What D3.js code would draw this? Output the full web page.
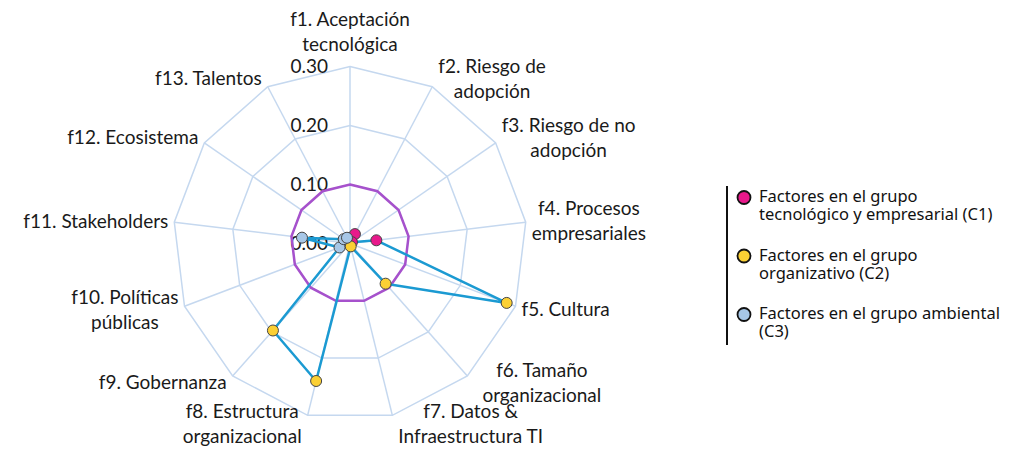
<!DOCTYPE html>
<html>
<head>
<meta charset="utf-8">
<script src="https://cdn.jsdelivr.net/npm/d3@7"></script>
<style>
  body { margin: 0; background: #fff; }
</style>
</head>
<body>
<svg id="chart" width="1022" height="450"></svg>
<script>
// factor names (split in lines as in the original figure)
const factors = [
    ["f1. Aceptación", "tecnológica"],
    ["f2. Riesgo de", "adopción"],
    ["f3. Riesgo de no", "adopción"],
    ["f4. Procesos", "empresariales"],
    ["f5. Cultura"],
    ["f6. Tamaño", "organizacional"],
    ["f7. Datos &", "Infraestructura TI"],
    ["f8. Estructura", "organizacional"],
    ["f9. Gobernanza"],
    ["f10. Políticas", "públicas"],
    ["f11. Stakeholders"],
    ["f12. Ecosistema"],
    ["f13. Talentos"]
];
// group of each factor
const factorGroup = ["C1", "C1", "C1", "C1", "C2", "C2", "C2", "C2", "C2", "C3", "C3", "C3", "C3"];
// weight of each factor
const weights = [0.008, 0.018, 0.004, 0.045, 0.284, 0.091, 0.005, 0.240, 0.197, 0.019, 0.082, 0.013, 0.011];
// reference line (purple)
const reference = [0.10, 0.10, 0.10, 0.10, 0.10, 0.10, 0.10, 0.10, 0.10, 0.10, 0.10, 0.10, 0.10];
const ticks = [0, 0.10, 0.20, 0.30];
const groupKeys = ["C1", "C2", "C3"];
const legendLabels = [
    ["Factores en el grupo", "tecnológico y empresarial (C1)"],
    ["Factores en el grupo", "organizativo (C2)"],
    ["Factores en el grupo ambiental", "(C3)"]
];

const cx = 350, cy = 243.5, R = 177;
const labelFont = "Lato, 'DejaVu Sans', sans-serif";
const legendFont = "'Noto Sans', sans-serif";

const svg = d3.select("#chart");
const g = svg.append("g").attr("transform", "translate(" + cx + "," + cy + ")");

let r = d3.scaleLinear().domain([0, 0.30]).range([0, R]);
let angle = d3.scaleLinear().domain([0, factors.length]).range([0, 2 * Math.PI]);
let color = d3.scaleOrdinal().domain(groupKeys).range(["#e8198b", "#fbd034", "#a7c7e7"]);

function pt(i, v) {
    let a = angle(i);
    return [Math.sin(a) * r(v), -Math.cos(a) * r(v)];
}

// grid rings
let ring = d3.lineRadial().angle((d, i) => angle(i)).radius(d => r(d)).curve(d3.curveLinearClosed);
g.append("g").attr("class", "grid")
    .selectAll("path")
    .data(ticks.filter(t => t > 0))
    .enter().append("path")
    .attr("d", t => ring(factors.map(() => t)))
    .attr("fill", "none")
    .attr("stroke", "#c5d8ef")
    .attr("stroke-width", 1.5);

// spokes
g.append("g").attr("class", "spokes")
    .selectAll("line")
    .data(factors)
    .enter().append("line")
    .attr("x1", 0).attr("y1", 0)
    .attr("x2", (d, i) => pt(i, 0.30)[0])
    .attr("y2", (d, i) => pt(i, 0.30)[1])
    .attr("stroke", "#c5d8ef")
    .attr("stroke-width", 1.5);

// tick labels
g.append("g").attr("class", "ticks")
    .selectAll("text")
    .data(ticks)
    .enter().append("text")
    .attr("x", -22)
    .attr("y", d => -r(d))
    .attr("dy", "0.36em")
    .attr("text-anchor", "end")
    .attr("font-family", labelFont)
    .attr("font-size", 19)
    .attr("fill", "#1a1a1a")
    .text(d => d.toFixed(2));

// reference polygon
g.append("path")
    .attr("d", ring(reference))
    .attr("fill", "none")
    .attr("stroke", "#a651cc")
    .attr("stroke-width", 2.5);

// weights polygon
g.append("path")
    .attr("d", ring(weights))
    .attr("fill", "none")
    .attr("stroke", "#1b9ad2")
    .attr("stroke-width", 2.5)
    .attr("stroke-linejoin", "round");

// markers, drawn group by group
let marks = weights.map((w, i) => ({ w: w, i: i, grp: factorGroup[i] }));
marks.sort((a, b) => groupKeys.indexOf(a.grp) - groupKeys.indexOf(b.grp));
g.append("g").attr("class", "marks")
    .selectAll("circle")
    .data(marks)
    .enter().append("circle")
    .attr("cx", d => pt(d.i, d.w)[0])
    .attr("cy", d => pt(d.i, d.w)[1])
    .attr("r", 5.5)
    .attr("fill", d => color(d.grp))
    .attr("stroke", "#444")
    .attr("stroke-width", 1);

// factor labels: one text per factor, one tspan per line
let lineH = 25;
let labels = g.append("g").attr("class", "labels")
    .selectAll("text")
    .data(factors)
    .enter().append("text")
    .attr("font-family", labelFont)
    .attr("font-size", 19)
    .attr("fill", "#1a1a1a")
    .attr("text-anchor", "middle");

labels.each(function(lines, i) {
    let lab = d3.select(this);
    let spans = lab.selectAll("tspan").data(lines).enter().append("tspan")
        .attr("x", 0)
        .attr("y", (d, k) => k * lineH)
        .attr("dy", "0.35em")
        .text(d => d);
    let w = d3.max(spans.nodes(), n => n.getComputedTextLength());
    let a = angle(i);
    let sx = Math.sin(a), sy = -Math.cos(a);
    let [vx, vy] = pt(i, 0.30);
    let bx, by;
    let h = (lines.length - 1) * lineH;
    if (Math.abs(sx) < 0.01) {
        bx = vx;
        by = vy - 22 - h;       // above the top vertex
    } else {
        let extra = (sx > 0.5 && sy > 0.5) ? 9 : 0;
        bx = sx > 0 ? vx + 6 + extra + w / 2 : vx - 6 - w / 2;
        by = vy + sy * 9 - h / 2;
    }
    lab.attr("transform", "translate(" + bx + "," + by + ")");
});

// legend
let lg = svg.append("g").attr("class", "legend");
lg.append("line")
    .attr("x1", 727).attr("x2", 727)
    .attr("y1", 186).attr("y2", 345)
    .attr("stroke", "#111").attr("stroke-width", 2);

let items = lg.selectAll("g.item")
    .data(groupKeys)
    .enter().append("g")
    .attr("class", "item")
    .attr("transform", (d, i) => "translate(744," + (197.5 + i * 58.5) + ")");

items.append("circle")
    .attr("r", 6.5)
    .attr("fill", d => color(d))
    .attr("stroke", "#111")
    .attr("stroke-width", 1.8);

items.append("text")
    .attr("font-family", legendFont)
    .attr("font-size", 16.5)
    .attr("fill", "#111")
    .each(function(d, i) {
        d3.select(this).selectAll("tspan")
            .data(legendLabels[i])
            .enter().append("tspan")
            .attr("x", 15)
            .attr("y", (t, k) => k * 18 - 1)
            .attr("dy", "0.35em")
            .text(t => t);
    });
</script>
</body>
</html>
